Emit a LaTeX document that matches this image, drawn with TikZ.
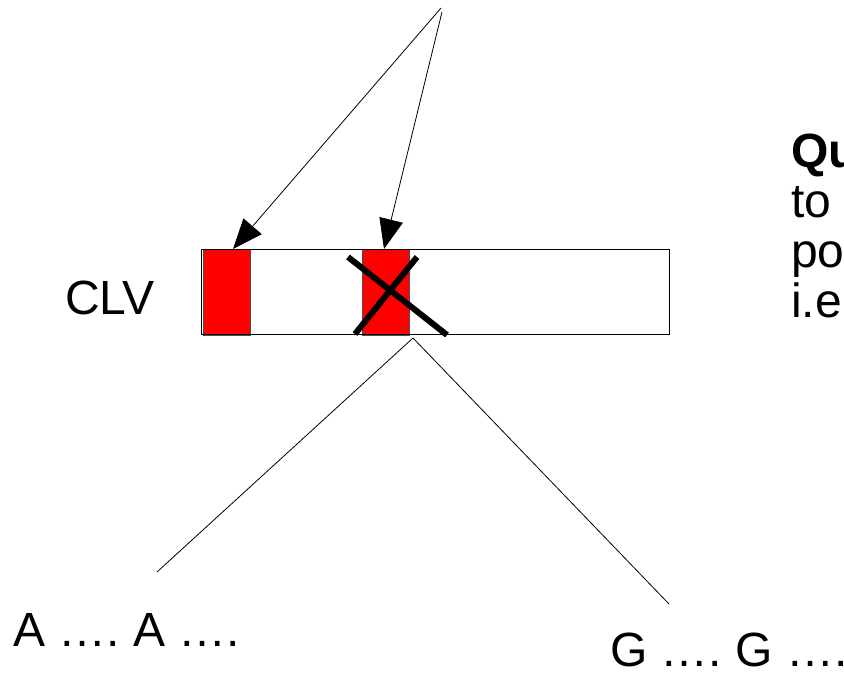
\documentclass[tikz,border=0pt]{standalone}
\usepackage{fontspec}
\setmainfont{Liberation Sans}
\usetikzlibrary{arrows.meta}
\begin{document}
\begin{tikzpicture}[x=1pt,y=-1pt,
  lbl/.style={inner sep=0pt,anchor=base west,font=\fontsize{48}{48}\selectfont},
  redbox/.style={fill=red,draw=black!70,line width=0.8pt,minimum width=47pt,minimum height=86pt,inner sep=0pt,anchor=north west},
  bigarrow/.style={line width=0.8pt,-{Triangle[length=30pt,width=24pt]}},
  crossline/.style={line width=6pt},
  thin/.style={line width=0.8pt}]
\useasboundingbox (0,0) rectangle (844,673);
% bar
\node[draw,thin,fill=white,minimum width=468pt,minimum height=85pt,inner sep=0pt,anchor=north west] (bar) at (201,249) {};
\node[redbox] (r1) at (203,249) {};
\node[redbox] (r2) at (362,249) {};
\draw[thin] (bar.north west) rectangle (bar.south east);
% X
\coordinate (x1) at (348,257);
\coordinate (x2) at (447,335);
\coordinate (x3) at (417,257);
\coordinate (x4) at (355,334);
\draw[crossline] (x1) -- (x2);
\draw[crossline] (x3) -- (x4);
% arrows
\coordinate (src1) at (441,8);
\coordinate (src2) at (442,12);
\coordinate (t1) at (233,249);
\coordinate (t2) at (384,249);
\draw[bigarrow] (src1) -- (t1);
\draw[bigarrow] (src2) -- (t2);
% branch lines
\coordinate (apex) at (413,338);
\coordinate (lend) at (157,572);
\coordinate (rend) at (669,604);
\draw[thin] (apex) -- (lend);
\draw[thin] (apex) -- (rend);
% texts
\node[lbl] (clv) at (65,314) {CLV};
\node[lbl] (aa) at (13,646) {A ….\ A ….};
\node[lbl] (gg) at (610,666) {G ….\ G ….};
\begin{scope}
\clip (0,0) rectangle (844,673);
\node[lbl,font=\fontsize{48}{48}\selectfont\bfseries] (qu) at (791,167) {Qu};
\node[lbl] (to) at (791,217) {to};
\node[lbl] (po) at (791,267) {po};
\node[lbl] (ie) at (791,317) {i.e};
\end{scope}
\end{tikzpicture}
\end{document}
